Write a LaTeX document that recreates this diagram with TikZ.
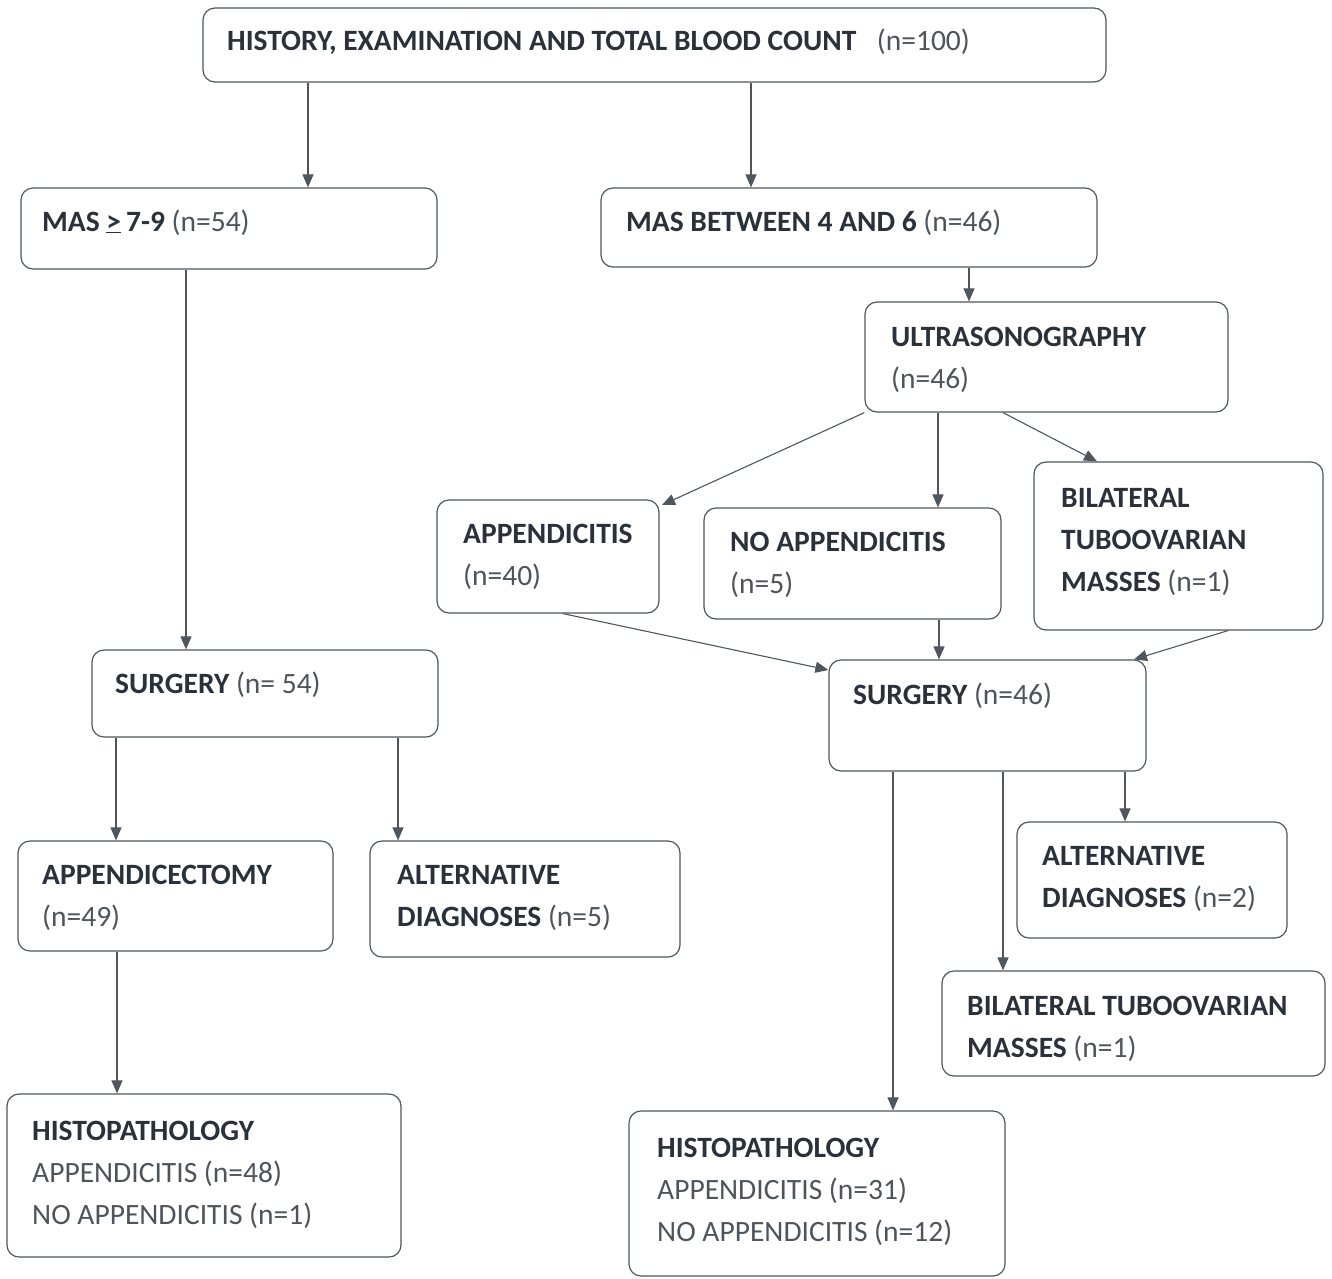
\documentclass[tikz,border=0pt]{standalone}
\usepackage{fontspec}
\setmainfont{Carlito}
\usetikzlibrary{arrows.meta,fit}
\definecolor{ink}{HTML}{2B313A}
\definecolor{soft}{HTML}{4E545C}
\definecolor{edge}{HTML}{4F565E}
\newcommand\nn[1]{{\mdseries\color{soft}#1}}
\begin{document}
\begin{tikzpicture}[x=1pt,y=-1pt,
  box/.style={draw=edge, line width=1.2pt, rounded corners=12pt, inner sep=0pt},
  txt/.style={anchor=base west, align=left, inner sep=0pt, text=ink,
    font=\fontsize{29.5}{42}\selectfont\bfseries},
  arr/.style={draw=edge, line width=1.1pt, -{Triangle[length=13pt,width=11pt]}}]
\useasboundingbox (0,0) rectangle (1332,1278);
% boxes
\node[box, fit={(203,8) (1106,82)}] (top) {};
\node[box, fit={(21,188) (437,269)}] (mas1) {};
\node[box, fit={(601,188) (1097,267)}] (mas2) {};
\node[box, fit={(865,302) (1228,412)}] (us) {};
\node[box, fit={(437,500) (659,613)}] (app) {};
\node[box, fit={(704,508) (1001,619)}] (noapp) {};
\node[box, fit={(1034,462) (1323,630)}] (bil) {};
\node[box, fit={(92,650) (438,737)}] (surg1) {};
\node[box, fit={(829,660) (1146,771)}] (surg2) {};
\node[box, fit={(18,841) (333,951)}] (appx) {};
\node[box, fit={(370,841) (680,957)}] (alt1) {};
\node[box, fit={(1017,822) (1287,938)}] (alt2) {};
\node[box, fit={(942,971) (1325,1076)}] (bil2) {};
\node[box, fit={(7,1094) (401,1257)}] (hist1) {};
\node[box, fit={(629,1111) (1005,1276)}] (hist2) {};
% texts (anchor = baseline of the last line)
\node[txt] (ttop) at (227,50) {HISTORY, EXAMINATION AND TOTAL BLOOD COUNT\hspace{0.7em}\nn{(n=100)}};
\node[txt] (tmas1) at (42,231) {MAS \underline{>}\,7-9 \nn{(n=54)}};
\node[txt] (tmas2) at (626,231) {MAS BETWEEN 4 AND 6 \nn{(n=46)}};
\node[txt] (tus) at (891,388) {ULTRASONOGRAPHY\\\nn{(n=46)}};
\node[txt] (tapp) at (463,585) {APPENDICITIS\\\nn{(n=40)}};
\node[txt] (tnoapp) at (730,593) {NO APPENDICITIS\\\nn{(n=5)}};
\node[txt] (tbil) at (1061,591) {BILATERAL\\TUBOOVARIAN\\MASSES \nn{(n=1)}};
\node[txt] (tsurg1) at (115,693) {SURGERY \nn{(n= 54)}};
\node[txt] (tsurg2) at (853,704) {SURGERY \nn{(n=46)}};
\node[txt] (tappx) at (42,926) {APPENDICECTOMY\\\nn{(n=49)}};
\node[txt] (talt1) at (397,926) {ALTERNATIVE\\DIAGNOSES \nn{(n=5)}};
\node[txt] (talt2) at (1042,907) {ALTERNATIVE\\DIAGNOSES \nn{(n=2)}};
\node[txt] (tbil2) at (967,1057) {BILATERAL TUBOOVARIAN\\MASSES \nn{(n=1)}};
\node[txt] (thist1) at (32,1224) {HISTOPATHOLOGY\\\nn{APPENDICITIS (n=48)}\\\nn{NO APPENDICITIS (n=1)}};
\node[txt] (thist2) at (657,1241) {HISTOPATHOLOGY\\\nn{APPENDICITIS (n=31)}\\\nn{NO APPENDICITIS (n=12)}};
% connectors
\draw[arr] (308,0 |- top.south) -- (308,0 |- mas1.north);
\draw[arr] (751,0 |- top.south) -- (751,0 |- mas2.north);
\draw[arr] (969,0 |- mas2.south) -- (969,0 |- us.north);
\draw[arr] (186,0 |- mas1.south) -- (186,0 |- surg1.north);
\draw[arr] (us.south west) -- (662,505);
\draw[arr] (938,0 |- us.south) -- (938,0 |- noapp.north);
\draw[arr] (1003,0 |- us.south) -- (1097,0 |- bil.north);
\draw[arr] (563,0 |- app.south) -- (surg2.west |- 0,670);
\draw[arr] (939,0 |- noapp.south) -- (939,0 |- surg2.north);
\draw[arr] (1228,0 |- bil.south) -- (1134,0 |- surg2.north);
\draw[arr] (116,0 |- surg1.south) -- (116,0 |- appx.north);
\draw[arr] (398,0 |- surg1.south) -- (398,0 |- alt1.north);
\draw[arr] (117,0 |- appx.south) -- (117,0 |- hist1.north);
\draw[arr] (1125,0 |- surg2.south) -- (1125,0 |- alt2.north);
\draw[arr] (1003,0 |- surg2.south) -- (1003,0 |- bil2.north);
\draw[arr] (893,0 |- surg2.south) -- (893,0 |- hist2.north);
\end{tikzpicture}
\end{document}
